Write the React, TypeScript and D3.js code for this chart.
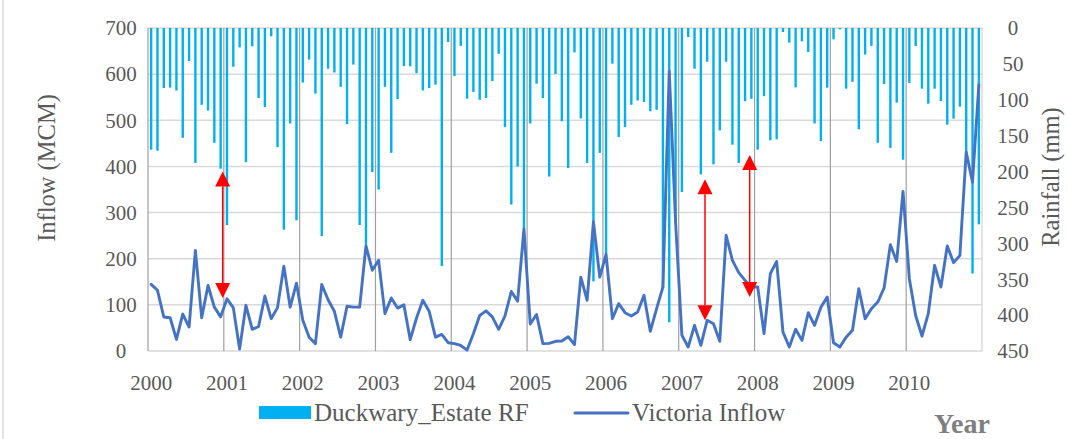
import React from 'react';
import * as d3 from 'd3';

// Monthly rainfall at Duckwary Estate (mm), Jan 2000 – Dec 2010
const rainfall2000_2002 = [
  169.5, 171, 83.6, 83, 87, 153, 46, 188, 107, 115, 160, 196,
  274.5, 54, 27, 187, 25.5, 97.5, 110, 11.6, 166, 281, 133, 268,
  76, 44, 91.5, 290, 56.7, 62, 82, 134, 51, 274.5, 302, 200.6,
];
const rainfall2003_2005 = [
  225, 82, 174, 99, 53, 53.4, 63, 87, 83.6, 79, 331.6, 19.5,
  67, 25, 98.5, 89, 100, 97.5, 74, 36, 138, 246, 193, 280,
  133, 77.6, 97.5, 207, 64, 130, 195, 34, 126, 188, 353, 174,
];
const rainfall2006_2008 = [
  315, 49.7, 152, 138, 107, 101, 103, 116, 114, 362, 410, 270,
  228.5, 12.5, 56.7, 204, 47, 190, 142.6, 47, 162.6, 188, 102, 98.5,
  169.5, 95, 156.5, 155, 5.6, 20.4, 82.7, 18.6, 33.4, 133, 157.5, 83,
];
const rainfall2009_2010 = [
  15.8, 1.9, 84.5, 75, 141, 37, 25, 160, 78, 167, 104, 183.5,
  76.6, 25, 84.5, 105.4, 84.5, 101.7, 134.7, 126.3, 109.6, 175, 342, 273.6,
];

// Monthly Victoria reservoir inflow (MCM), Jan 2000 – Dec 2010
const inflow2000_2002 = [
  144.5, 131.5, 73.7, 72, 25, 80, 52, 218, 72, 142, 95, 74,
  113, 94, 4, 99, 47, 53, 119, 70, 94, 184, 95, 147,
  66.5, 30, 16, 144, 111, 86, 30, 97, 95, 95, 228, 175,
];
const inflow2003_2005 = [
  196.5, 81, 115, 93, 100, 24.6, 71.5, 110, 86, 30, 36, 18,
  16, 12, 2, 37.6, 77, 87, 74, 47, 76, 129, 108, 264,
  58.5, 79, 16, 16.6, 21, 21.7, 31, 14, 160, 110, 280, 160,
];
const inflow2006_2008 = [
  209.5, 70, 102.6, 83, 76, 84.5, 120.7, 42.6, 91.8, 138.7, 606, 279.6,
  34, 8.7, 55.6, 12.3, 66.5, 59, 21, 250.7, 196.5, 170, 153, 138.7,
  138.7, 37.6, 167.6, 194, 41, 8.7, 47, 23, 83, 55.6, 95, 117,
];
const inflow2009_2010 = [
  18, 8.7, 30, 45, 135, 70, 91.8, 106, 136.6, 230.5, 194, 346,
  156.8, 77, 32.5, 81, 185.7, 138.7, 227.6, 191.5, 207, 431, 366, 577,
];

const rainfall = [...rainfall2000_2002, ...rainfall2003_2005, ...rainfall2006_2008, ...rainfall2009_2010];
const inflow = [...inflow2000_2002, ...inflow2003_2005, ...inflow2006_2008, ...inflow2009_2010];

const yearLabels = ['2000', '2001', '2002', '2003', '2004', '2005', '2006', '2007', '2008', '2009', '2010'];
const inflowTicks = [0, 100, 200, 300, 400, 500, 600, 700];
const rainfallTicks = [0, 50, 100, 150, 200, 250, 300, 350, 400, 450];

// Red double-headed arrows: position in months since Jan 2000, inflow range (MCM)
const arrowMonths = [11.82, 88.16, 95.23];
const arrowTop = [389, 372, 425];
const arrowBottom = [115, 66.5, 117];

const W = 1068;
const H = 439;
const FONT = '"Liberation Serif", "Times New Roman", serif';
const TEXT = '#595959';

export default function App() {
  const n = rainfall.length;
  const x = d3.scaleLinear().domain([0, n]).range([148, 982]);
  const yL = d3.scaleLinear().domain([0, 700]).range([351, 28]);
  const yR = d3.scaleLinear().domain([0, 450]).range([28, 351]);
  const bw = 2.4;

  const line = d3
    .line<number>()
    .x((_, i) => x(i + 0.5))
    .y((d) => yL(d));

  const yearIdx = d3.range(0, 11);

  return (
    <svg
      width={W}
      height={H}
      style={{ position: 'absolute', left: 0, top: 0, background: '#fff' }}
      fontFamily={FONT}
    >
      <rect x={0} y={0} width={W} height={H} fill="#fff" />
      <line x1={3} x2={3} y1={0} y2={H} stroke="#D9D9D9" strokeWidth={1.5} />

      {/* horizontal gridlines */}
      {inflowTicks.map((t) => (
        <line key={'h' + t} x1={x(0)} x2={x(n)} y1={yL(t)} y2={yL(t)} stroke="#D9D9D9" strokeWidth={1.5} />
      ))}
      {/* year separators */}
      {yearIdx.map((k) => (
        <line key={'v' + k} x1={x(k * 12)} x2={x(k * 12)} y1={yL(700)} y2={yL(0)} stroke="#A0A0A0" strokeWidth={1.2} />
      ))}
      <line x1={x(n)} x2={x(n)} y1={yL(700)} y2={yL(0)} stroke="#D0D0D0" strokeWidth={1.2} />

      {/* rainfall bars hanging from the top */}
      {rainfall.map((v, i) => (
        <rect key={'b' + i} x={x(i + 0.5) - bw / 2} y={yR(0)} width={bw} height={yR(v) - yR(0)} fill="#00B0F0" />
      ))}

      {/* inflow line */}
      <path d={line(inflow) || ''} fill="none" stroke="#4472C4" strokeWidth={2.9} strokeLinejoin="round" strokeLinecap="round" />

      {/* annotation arrows */}
      {arrowMonths.map((m, i) => {
        const ax = x(m);
        const t = yL(arrowTop[i]);
        const b = yL(arrowBottom[i]);
        const hw = 7.5;
        const hh = 15;
        return (
          <g key={'a' + i}>
            <line x1={ax} x2={ax} y1={t + hh} y2={b - hh} stroke="#FF0000" strokeWidth={1.5} />
            <path d={`M${ax},${t} L${ax - hw},${t + hh} L${ax + hw},${t + hh} Z`} fill="#FF0000" />
            <path d={`M${ax},${b} L${ax - hw},${b - hh} L${ax + hw},${b - hh} Z`} fill="#FF0000" />
          </g>
        );
      })}

      {/* left axis labels */}
      {inflowTicks.map((t) => (
        <text key={'l' + t} x={121} y={yL(t)} dy="0.35em" textAnchor="middle" fontSize={21} fill={TEXT}>
          {t}
        </text>
      ))}
      {/* right axis labels */}
      {rainfallTicks.map((t) => (
        <text key={'r' + t} x={1013} y={yR(t)} dy="0.35em" textAnchor="middle" fontSize={21} fill={TEXT}>
          {t}
        </text>
      ))}
      {/* year labels */}
      {yearLabels.map((lab, k) => (
        <text key={'y' + lab} x={x(k * 12 + 0.5)} y={390} textAnchor="middle" fontSize={21} fill={TEXT}>
          {lab}
        </text>
      ))}

      {/* axis titles */}
      <text transform="translate(55,168) rotate(-90)" textAnchor="middle" fontSize={24.5} fill={TEXT}>
        Inflow (MCM)
      </text>
      <text transform="translate(1059,177) rotate(-90)" textAnchor="middle" fontSize={24.5} fill={TEXT}>
        Rainfall (mm)
      </text>

      {/* legend */}
      <rect x={259} y={406} width={52} height={13} fill="#00B0F0" />
      <text x={314} y={421} fontSize={25} fill={TEXT}>
        Duckwary_Estate RF
      </text>
      <line x1={575} x2={628} y1={413} y2={413} stroke="#4472C4" strokeWidth={3} strokeLinecap="round" />
      <text x={632} y={421} fontSize={25} fill={TEXT}>
        Victoria Inflow
      </text>

      <text x={934} y={433} fontSize={28} fontWeight="bold" fill="#7F7F7F">
        Year
      </text>
    </svg>
  );
}
